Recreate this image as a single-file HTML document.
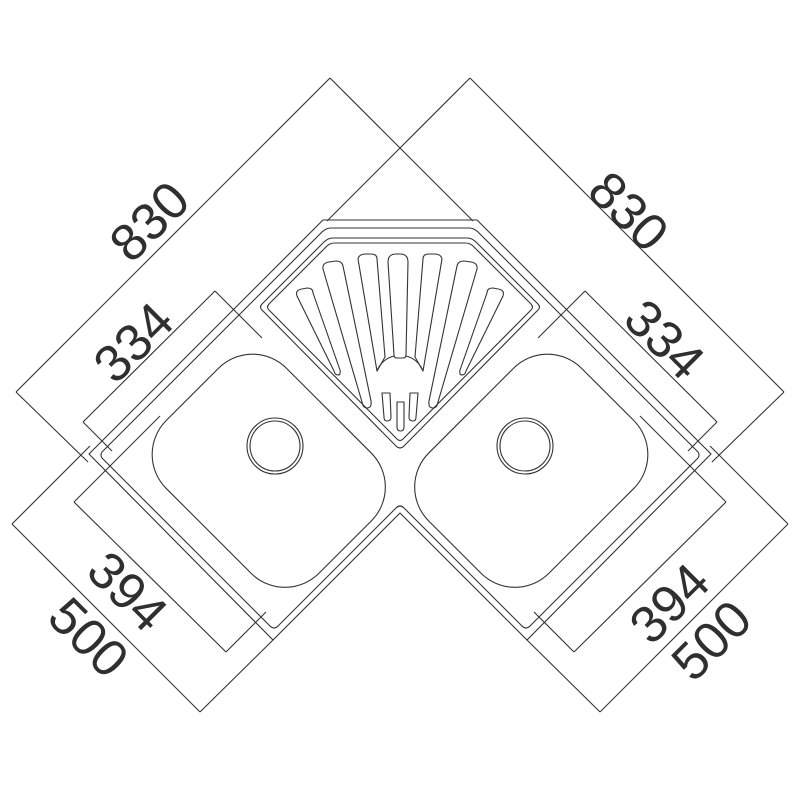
<!DOCTYPE html>
<html><head><meta charset="utf-8"><style>
html,body{margin:0;padding:0;background:#fff;}
svg{display:block;}
text{font-family:"Liberation Sans",sans-serif;font-size:52px;fill:#2f2f2f;}
</style></head><body>
<svg width="800" height="800" viewBox="0 0 800 800" xmlns="http://www.w3.org/2000/svg">
<rect width="800" height="800" fill="#fff"/>
<g id="half" fill="none" stroke="#333" stroke-width="1.1" stroke-linejoin="round">
  <!-- dimension lines left -->
  <line x1="330" y1="78" x2="16" y2="392"/>
  <line x1="330" y1="78" x2="473" y2="221"/>
  <line x1="16" y1="392" x2="88" y2="462"/>
  <line x1="215" y1="291" x2="83" y2="422"/>
  <line x1="215" y1="291" x2="262" y2="338"/>
  <line x1="83" y1="422" x2="112" y2="451"/>
  <line x1="74" y1="502" x2="226" y2="652"/>
  <line x1="74" y1="502" x2="160" y2="416"/>
  <line x1="226" y1="652" x2="266" y2="612"/>
  <line x1="12" y1="524" x2="200" y2="712"/>
  <line x1="12" y1="524" x2="90" y2="446"/>
  <line x1="200" y1="712" x2="273" y2="640"/>
  <!-- bowl -->
  <rect x="160.75" y="385.75" width="216" height="170" rx="48" ry="48" transform="rotate(45 268.75 470.75)"/>
  <circle cx="275" cy="446" r="28"/>
  <circle cx="275" cy="446" r="25"/>
  <!-- ribs left -->
  <path d="M358,259 Q359,254 366,254 L371,254 Q377,254 377,259 L385,357 L377,371 Z"/>
  <path d="M323,269 Q322,263 329,262 L336,261 Q342,261 343,266 L371,401 Q372,408 367,408 Q363,408 362,402 Z"/>
  <path d="M297,296 Q295,290 302,289 L307,288 Q313,288 313,293 L340,370 Q341,375 338,375 Q335,375 334,371 Z"/>
  <path d="M382,393 L390,393 L391,417 Q391,421 387,421 Q384,421 384,417 Z"/>
</g>
<use href="#half" transform="translate(800 0) scale(-1 1)"/>
<g fill="none" stroke="#333" stroke-width="1.1" stroke-linejoin="round">
  <!-- outer outline -->
  <polygon points="323,220 477,220 711,454 527,640 400,513 273,640 89,454"/>
  <!-- rim -->
  <path d="M331,228 L469,228 Q474,228 478,232 L698,452 Q700,455 698,458 L530,626 Q526,630 522,626 L404,508 Q400,504 396,508 L278,626 Q274,630 270,626 L102,458 Q100,455 102,452 L322,232 Q326,228 331,228 Z"/>
  <!-- drainer -->
  <path d="M333,238 L467,238 Q472,238 476,242 L538,304 Q541,307 538,310 L404,446 Q400,450 396,446 L262,310 Q259,307 262,304 L324,242 Q328,238 333,238 Z"/>
  <path d="M335,243 L465,243 Q470,243 473,246 L531,304 Q534,307 531,310 L403,439 Q400,442 397,439 L269,310 Q266,307 269,304 L327,246 Q330,243 335,243 Z"/>
  <!-- center rib & strainer -->
  <path d="M377,371 A24,24 0 0 1 394,356"/>
  <path d="M423,371 A24,24 0 0 0 406,356"/>
  <path d="M388,262 Q388,254 396,254 L400,254 Q408,254 408,262 L406,355 Q406,358 403,358 L397,358 Q394,358 394,355 Z"/>
  <path d="M397,402 L404,402 L404,427 Q404,431 400.5,431 Q397,431 397,427 Z"/>
</g>
<text x="150" y="222" text-anchor="middle" dominant-baseline="central" transform="rotate(-45 150 222)">830</text>
<text x="134" y="343" text-anchor="middle" dominant-baseline="central" transform="rotate(-45 134 343)">334</text>
<text x="127" y="592" text-anchor="middle" dominant-baseline="central" transform="rotate(45 127 592)">394</text>
<text x="88" y="638" text-anchor="middle" dominant-baseline="central" transform="rotate(45 88 638)">500</text>
<text x="628" y="212" text-anchor="middle" dominant-baseline="central" transform="rotate(45 628 212)">830</text>
<text x="664" y="340" text-anchor="middle" dominant-baseline="central" transform="rotate(45 664 340)">334</text>
<text x="670" y="604" text-anchor="middle" dominant-baseline="central" transform="rotate(-45 670 604)">394</text>
<text x="712" y="641" text-anchor="middle" dominant-baseline="central" transform="rotate(-45 712 641)">500</text>
</svg>
</body></html>
